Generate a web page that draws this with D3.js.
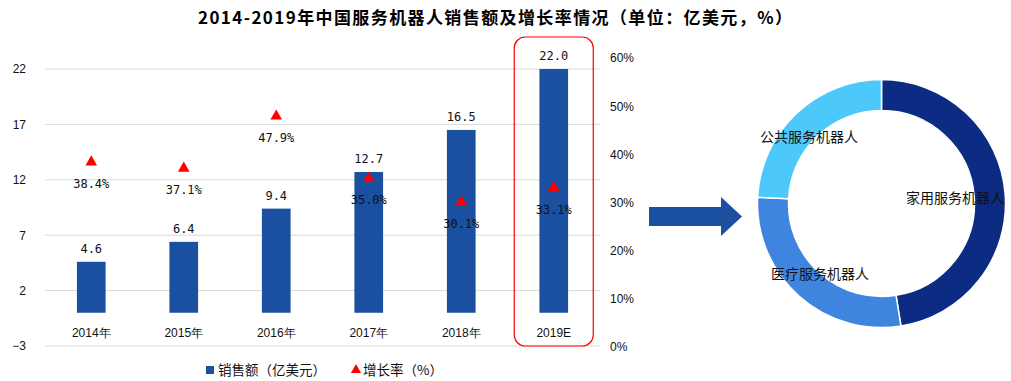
<!DOCTYPE html>
<html><head><meta charset="utf-8">
<script src="https://cdn.jsdelivr.net/npm/d3@7/dist/d3.min.js"></script>
<style>body{margin:0;background:#fff}svg{display:block}</style>
</head><body><svg id="c" width="1011" height="381"></svg>
<script>
const categories = ["2014年","2015年","2016年","2017年","2018年","2019E"];
const sales = [4.6, 6.4, 9.4, 12.7, 16.5, 22.0];
const growth = [38.4, 37.1, 47.9, 35.0, 30.1, 33.1];
const leftTicks = [-3, 2, 7, 12, 17, 22];
const rightTicks = [0, 10, 20, 30, 40, 50, 60];
const segNames = ["家用服务机器人","医疗服务机器人","公共服务机器人"];
const segValues = [47.5, 28.3, 24.2];
const segColors = ["#0b2c82","#3f84df","#4dc8fb"];

const svg = d3.select("#c");
const font = "'Liberation Sans', Arial, sans-serif";
const mono = "'DejaVu Sans Mono', monospace";
const cjk = "'Noto Sans CJK SC', sans-serif";

svg.append("text").attr("x", 198).attr("y", 24).attr("text-anchor","start")
  .attr("font-family",cjk).attr("font-weight","bold").attr("font-size",17).attr("letter-spacing",1.4)
  .text("2014-2019年中国服务机器人销售额及增长率情况（单位：亿美元，%）");

const x = d3.scaleBand().domain(categories).range([45, 600]).paddingInner(0.69).paddingOuter(0.345);
const y = d3.scaleLinear().domain([-3, 22]).range([346, 69]);
const y2 = d3.scaleLinear().domain([0, 60]).range([347, 58]);

svg.append("g").selectAll("line").data(leftTicks).join("line")
  .attr("x1",45).attr("x2",600).attr("y1",d=>y(d)).attr("y2",d=>y(d))
  .attr("stroke","#d9d9d9").attr("stroke-width",1);

const la = svg.append("g").attr("transform","translate(30,0)")
  .call(d3.axisLeft(y).tickValues(leftTicks).tickSize(0).tickPadding(4));
la.select(".domain").remove();
la.selectAll("text").attr("font-family",font).attr("font-size",12).attr("fill","#111");

const ra = svg.append("g").attr("transform","translate(606,0)")
  .call(d3.axisRight(y2).tickValues(rightTicks).tickSize(0).tickPadding(4).tickFormat(d=>d+"%"));
ra.select(".domain").remove();
ra.selectAll("text").attr("font-family",font).attr("font-size",12).attr("fill","#111");

svg.append("g").selectAll("rect").data(sales).join("rect")
  .attr("x",(d,i)=>x(categories[i])).attr("width",x.bandwidth())
  .attr("y",d=>y(d)).attr("height",d=>y(0)-y(d)).attr("fill","#1b4f9f");

svg.append("g").selectAll("text").data(sales).join("text")
  .attr("x",(d,i)=>x(categories[i])+x.bandwidth()/2).attr("y",d=>y(d)-9)
  .attr("text-anchor","middle").attr("font-family",mono).attr("font-size",12).attr("fill","#111")
  .text(d=>d.toFixed(1));

svg.append("g").selectAll("text").data(categories).join("text")
  .attr("x",d=>x(d)+x.bandwidth()/2).attr("y",337)
  .attr("text-anchor","middle").attr("font-family",font).attr("font-size",12).attr("fill","#111")
  .text(d=>d);

const tri = d3.symbol().type(d3.symbolTriangle).size(58);
svg.append("g").selectAll("path").data(growth).join("path")
  .attr("d",tri).attr("fill","#ff0000")
  .attr("transform",(d,i)=>`translate(${x(categories[i])+x.bandwidth()/2},${y2(d)})`);
svg.append("g").selectAll("text").data(growth).join("text")
  .attr("x",(d,i)=>x(categories[i])+x.bandwidth()/2).attr("y",d=>y2(d)+26)
  .attr("text-anchor","middle").attr("font-family",mono).attr("font-size",12).attr("fill","#111")
  .text(d=>d.toFixed(1)+"%");

const last = categories[categories.length-1];
svg.append("rect").attr("x",x(last)+x.bandwidth()/2-39.5).attr("y",37).attr("width",79).attr("height",309)
  .attr("rx",11).attr("fill","none").attr("stroke","#ff0000").attr("stroke-width",1.2);

svg.append("rect").attr("x",206).attr("y",366).attr("width",8).attr("height",8).attr("fill","#1b4f9f");
svg.append("text").attr("x",218).attr("y",375).attr("font-family",cjk)
  .attr("font-size",13.5).attr("fill","#111").text("销售额（亿美元）");
svg.append("path").attr("d",d3.symbol().type(d3.symbolTriangle).size(45)).attr("fill","#ff0000")
  .attr("transform","translate(356,370)");
svg.append("text").attr("x",363).attr("y",375).attr("font-family",cjk)
  .attr("font-size",13.5).attr("fill","#111").text("增长率（%）");

svg.append("path").attr("d","M649,207 L721,207 L721,197 L742,216.5 L721,236 L721,226 L649,226 Z")
  .attr("fill","#1b4f9f");

const cx = 881.5, cy = 203.5;
const pie = d3.pie().sort(null).value(d=>d);
const arc = d3.arc().innerRadius(93).outerRadius(124);
const g = svg.append("g").attr("transform",`translate(${cx},${cy})`);
g.selectAll("path").data(pie(segValues)).join("path")
  .attr("d",arc).attr("fill",(d,i)=>segColors[i]).attr("stroke","#fff").attr("stroke-width",1.5);
const labelPos = [[955,203],[820,279],[809,142]];
svg.append("g").selectAll("text").data(segNames).join("text")
  .attr("x",(d,i)=>labelPos[i][0]).attr("y",(d,i)=>labelPos[i][1])
  .attr("text-anchor","middle").attr("font-family",cjk)
  .attr("font-size",14).attr("fill","#111").text(d=>d);
</script></body></html>
